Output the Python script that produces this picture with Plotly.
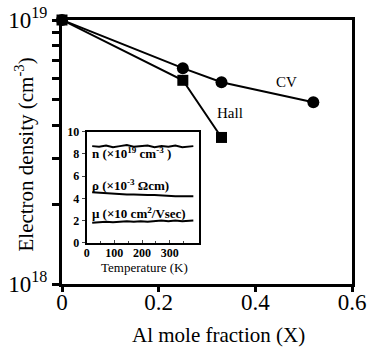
import plotly.graph_objects as go

# Main data
cv_x = [0, 0.25, 0.33, 0.52]
cv_y = [1e19, 6.57e18, 5.81e18, 4.88e18]
hall_x = [0, 0.25, 0.33]
hall_y = [1e19, 5.91e18, 3.59e18]

# Inset data
temp = [20, 45, 70, 95, 120, 145, 170, 195, 220, 245, 270, 295, 320, 345, 370, 385]
n_vals = [8.7, 8.65, 8.75, 8.6, 8.7, 8.8, 8.65, 8.7, 8.75, 8.6, 8.7, 8.65, 8.75, 8.6, 8.7, 8.7]
rho_vals = [4.55, 4.5, 4.45, 4.4, 4.4, 4.35, 4.35, 4.3, 4.3, 4.3, 4.25, 4.25, 4.2, 4.2, 4.2, 4.2]
mu_vals = [1.8, 1.85, 1.9, 1.85, 1.9, 1.95, 1.9, 1.95, 1.9, 1.95, 2.0, 1.95, 2.0, 1.95, 2.0, 2.0]

FONT = "Liberation Serif, Times New Roman, serif"

fig = go.Figure()
fig.add_trace(go.Scatter(x=hall_x, y=hall_y, mode="lines+markers",
                         line=dict(color="black", width=2),
                         marker=dict(symbol="square", size=11, color="black"),
                         cliponaxis=False, showlegend=False))
fig.add_trace(go.Scatter(x=cv_x, y=cv_y, mode="lines+markers",
                         line=dict(color="black", width=2),
                         marker=dict(symbol="circle", size=12, color="black"),
                         cliponaxis=False, showlegend=False))

for vals in (n_vals, rho_vals, mu_vals):
    fig.add_trace(go.Scatter(x=temp, y=vals, mode="lines", xaxis="x2", yaxis="y2",
                             line=dict(color="black", width=2), showlegend=False))

fig.update_layout(
    width=371, height=348,
    margin=dict(l=62, r=19, t=20, b=64),
    paper_bgcolor="white", plot_bgcolor="white",
    font=dict(family=FONT, color="black"),
    xaxis=dict(range=[0, 0.6], tickvals=[0, 0.2, 0.4, 0.6], ticktext=["0", "0.2", "0.4", "0.6"],
               ticks="outside", ticklen=5, tickwidth=3, tickcolor="black", automargin=False,
               ticklabelstandoff=-10, ticklabeloverflow="allow",
               showline=True, linewidth=3, linecolor="black", mirror=True,
               showgrid=False, zeroline=False, tickfont=dict(size=23, family=FONT)),
    yaxis=dict(type="log", range=[18, 19], tickvals=[1e18, 1e19],
               ticktext=["10<sup>18</sup>", "10<sup>19</sup>"], automargin=False,
               ticks="outside", ticklen=7, tickwidth=3, tickcolor="black",
               ticklabeloverflow="allow",
               minor=dict(tickvals=[2e18, 3e18, 4e18, 5e18, 6e18, 7e18, 8e18, 9e18],
                          ticks="outside", ticklen=7, tickwidth=3, tickcolor="black"),
               showline=True, linewidth=3, linecolor="black", mirror=True,
               showgrid=False, zeroline=False, tickfont=dict(size=23, family=FONT)),
    xaxis2=dict(domain=[0.085, 0.472], anchor="y2", range=[0, 405], automargin=False,
                tickvals=[0, 100, 200, 300], ticks="inside", ticklen=3, tickwidth=1,
                ticklabelstandoff=-2,
                minor=dict(tickvals=[50, 150, 250, 350], ticks="inside", ticklen=2, tickwidth=1),
                showline=True, linewidth=2, linecolor="black", mirror=True,
                showgrid=False, zeroline=False,
                tickfont=dict(size=12, family=FONT, weight="bold")),
    yaxis2=dict(domain=[0.156, 0.577], anchor="x2", range=[0, 10], automargin=False,
                tickvals=[0, 2, 4, 6, 8, 10], ticks="outside", ticklen=3, tickwidth=1,
                showline=True, linewidth=2, linecolor="black", mirror=True,
                showgrid=False, zeroline=False,
                tickfont=dict(size=12, family=FONT, weight="bold")),
    annotations=[
        dict(x=0.538, y=-0.193, xref="paper", yref="paper", text="Al mole fraction (X)",
             showarrow=False, xanchor="center", yanchor="middle",
             font=dict(size=21, family=FONT)),
        dict(x=-0.128, y=0.49, xref="paper", yref="paper", text="Electron density (cm<sup>-3</sup>)",
             showarrow=False, textangle=-90, xanchor="center", yanchor="middle",
             font=dict(size=21, family=FONT)),
        dict(x=0.465, y=18.765, xref="x", yref="y", text="CV", showarrow=False,
             font=dict(size=15, family=FONT)),
        dict(x=0.347, y=18.648, xref="x", yref="y", text="Hall", showarrow=False,
             font=dict(size=15, family=FONT)),
        dict(x=0.286, y=0.062, xref="paper", yref="paper", text="Temperature (K)", showarrow=False,
             xanchor="center", yanchor="middle", font=dict(size=13, family=FONT)),
        dict(x=0, y=8.1, xref="x2", yref="y2", xanchor="left", xshift=3, showarrow=False,
             text="<b>n (×10<sup>19</sup> cm<sup>-3</sup> )</b>", font=dict(size=13, family=FONT)),
        dict(x=0, y=5.2, xref="x2", yref="y2", xanchor="left", xshift=3, showarrow=False,
             text="<b>ρ (×10<sup>-3</sup> Ωcm)</b>", font=dict(size=13, family=FONT)),
        dict(x=0, y=2.7, xref="x2", yref="y2", xanchor="left", xshift=3, showarrow=False,
             text="<b>μ (×10 cm<sup>2</sup>/Vsec)</b>", font=dict(size=13, family=FONT)),
    ],
)

fig.write_html("out.html", config={"displayModeBar": False},
               post_script="document.body.style.margin='0';")
